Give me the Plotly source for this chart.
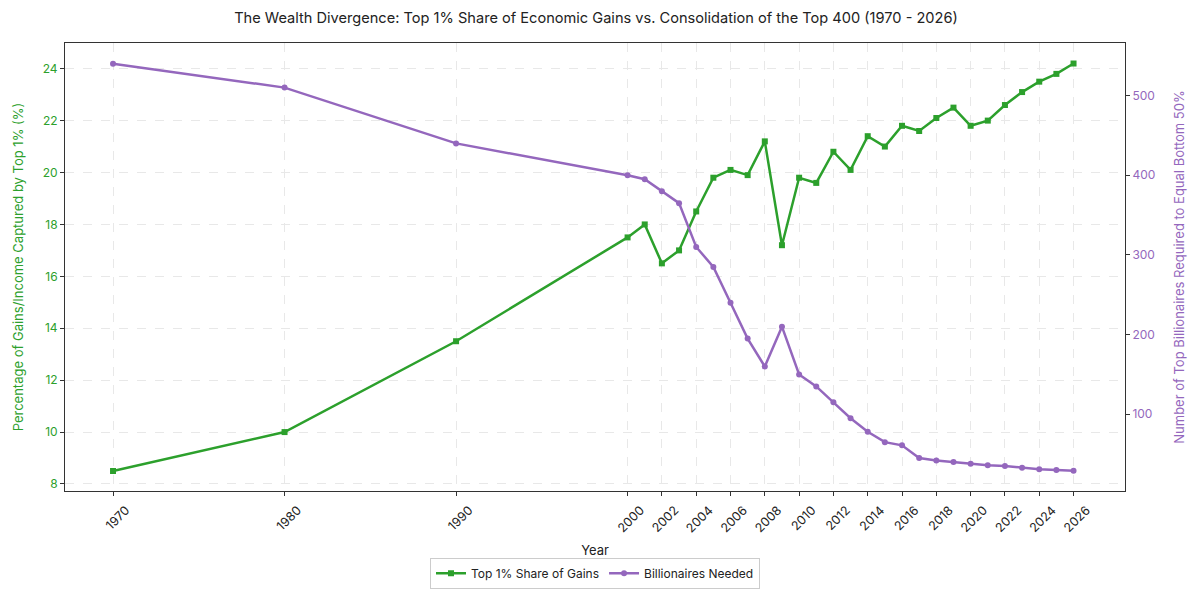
import plotly.graph_objects as go

# данные
years = [1970, 1980, 1990, 2000, 2001, 2002, 2003, 2004, 2005, 2006, 2007, 2008,
         2009, 2010, 2011, 2012, 2013, 2014, 2015, 2016, 2017, 2018, 2019, 2020,
         2021, 2022, 2023, 2024, 2025, 2026]

top1_share = [8.5, 10.0, 13.5, 17.5, 18.0, 16.5, 17.0, 18.5, 19.8, 20.1, 19.9, 21.2,
              17.2, 19.8, 19.6, 20.8, 20.1, 21.4, 21.0, 21.8, 21.6, 22.1, 22.5, 21.8,
              22.0, 22.6, 23.1, 23.5, 23.8, 24.2]

billionaires_needed = [540, 510, 440, 400, 395, 380, 365, 310, 285, 240, 195, 160,
                       210, 150, 135, 115, 95, 78, 65, 61, 45, 42, 40, 38,
                       36, 35, 33, 31, 30, 29]

tick_years = [1970, 1980, 1990] + list(range(2000, 2027, 2))

GREEN = "#2ca02c"
PURPLE = "#9467bd"
FONT = "Inter"

fig = go.Figure()

fig.add_trace(go.Scatter(
    x=years, y=top1_share,
    name="Top 1% Share of Gains",
    mode="lines+markers",
    line=dict(color=GREEN, width=2.5),
    marker=dict(symbol="square", size=6, color=GREEN),
    yaxis="y",
))

fig.add_trace(go.Scatter(
    x=years, y=billionaires_needed,
    name="Billionaires Needed",
    mode="lines+markers",
    line=dict(color=PURPLE, width=2.5),
    marker=dict(symbol="circle", size=6, color=PURPLE),
    yaxis="y2",
))

fig.update_layout(
    width=1200, height=600,
    paper_bgcolor="white",
    plot_bgcolor="white",
    font=dict(family=FONT, color="#222", size=12),
    title=dict(
        text="The Wealth Divergence: Top 1% Share of Economic Gains vs. Consolidation of the Top 400 (1970 - 2026)",
        font=dict(size=14.6, color="#222"),
        x=0.49, xanchor="center", y=0.983, yanchor="middle",
    ),
    # страница отрисовывается со сдвигом ~8px (отступ body)
    margin=dict(l=57, r=83, t=35, b=117, autoexpand=False),
    showlegend=True,
    legend=dict(
        orientation="h",
        x=0.5, xanchor="center",
        yref="container", y=0.058, yanchor="middle",
        bordercolor="#cccccc", borderwidth=1,
        bgcolor="white",
        font=dict(size=12, color="#222"),
    ),
    xaxis=dict(
        range=[1967.2, 2029.0],
        tickvals=tick_years,
        ticktext=[str(y) for y in tick_years],
        tickangle=-45,
        ticklabelshift=13, ticklabelstandoff=2,
        ticks="outside", ticklen=4, tickcolor="#333",
        showline=True, linecolor="#333", linewidth=1, mirror=True,
        showgrid=True, gridcolor="#e8e8e8", griddash="dash",
        zeroline=False, automargin=False,
        title=dict(text="Year", font=dict(size=13, color="#222"), standoff=14),
        tickfont=dict(size=12.5, color="#222"),
    ),
    yaxis=dict(
        range=[7.73, 24.99],
        tickvals=list(range(8, 25, 2)),
        ticks="outside", ticklen=4, tickcolor="#333",
        showline=True, linecolor="#333", linewidth=1, mirror=True,
        showgrid=True, gridcolor="#e8e8e8", griddash="dash",
        zeroline=False, automargin=False,
        title=dict(text="Percentage of Gains/Income Captured by Top 1% (%)",
                   font=dict(size=13, color=GREEN), standoff=16),
        tickfont=dict(size=12, color=GREEN),
    ),
    yaxis2=dict(
        range=[3.7, 566],
        tickvals=[100, 200, 300, 400, 500],
        overlaying="y", side="right",
        ticks="outside", ticklen=4, tickcolor="#333",
        showline=True, linecolor="#333", linewidth=1,
        showgrid=False, zeroline=False, automargin=False,
        title=dict(text="Number of Top Billionaires Required to Equal Bottom 50%",
                   font=dict(size=13, color=PURPLE), standoff=20),
        tickfont=dict(size=12, color=PURPLE),
    ),
)

fig.write_html("out.html")
